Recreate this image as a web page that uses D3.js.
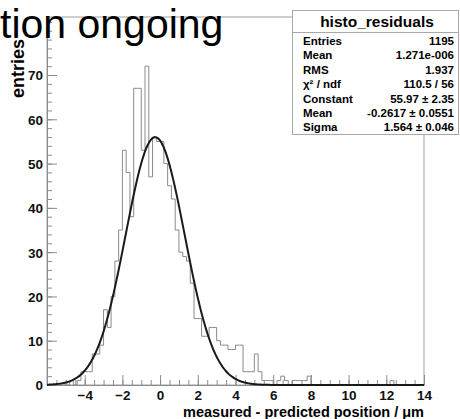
<!DOCTYPE html>
<html>
<head>
<meta charset="utf-8">
<script src="https://cdn.jsdelivr.net/npm/d3@7"></script>
<style>
  body { margin: 0; background: #fff; }
  svg, svg text { font-family: "Liberation Sans", Arial, sans-serif; }
  .axis path, .axis line { stroke: #8c8c8c; }
</style>
</head>
<body>
<svg id="chart" width="460" height="419"></svg>
<script>
// histogram: 100 bins of 0.2 from -6 to 14
var binLow = -6, binWidth = 0.2;
var counts = [
  0, 0, 0, 0, 0, 0, 1, 0, 1, 3,      // -6.0 .. -4.2
  3, 3, 7, 7, 9, 17, 13, 20, 28, 35,  // -4.0 .. -2.2
  53, 48, 38, 67, 67, 53, 72, 47, 56, 55, // -2.0 .. -0.2
  55, 50, 45, 42, 35, 30, 29, 28, 23, 15, // 0.0 .. 1.8
  15, 11, 11, 13, 13, 10, 9, 9, 8, 8,  // 2.0 .. 3.8
  9, 9, 3, 3, 3, 7, 3, 1, 1, 1,        // 4.0 .. 5.8
  0, 1, 2, 1, 0, 1, 1, 1, 1, 2,        // 6.0 .. 7.8
  0, 0, 0, 0, 0, 0, 0, 0, 0, 0,        // 8.0 .. 9.8
  0, 0, 0, 0, 0, 0, 0, 0, 0, 0,        // 10.0 .. 11.8
  0, 1, 0, 0, 0, 0, 0, 0, 0, 0         // 12.0 .. 13.8
];
// gaus fit: constant, mean, sigma
var fitParams = [55.97, -0.2617, 1.564];

var xTicks = [-4, -2, 0, 2, 4, 6, 8, 10, 12, 14];
var yTicks = [0, 10, 20, 30, 40, 50, 60, 70];

var statsTitle = "histo_residuals";
var statsNames = ["Entries", "Mean", "RMS", "\u03c7\u00b2 / ndf", "Constant", "Mean", "Sigma"];
var statsValues = ["1195", "1.271e-006", "1.937", "110.5 / 56", "55.97 \u00b1 2.35", "-0.2617 \u00b1 0.0551", "1.564 \u00b1 0.046"];

var svg = d3.select("#chart");

var x = d3.scaleLinear().domain([-6, 14]).range([47, 424]);
var y = d3.scaleLinear().domain([0, 83.1]).range([385, 17]);

// frame
svg.append("rect")
  .attr("x", 47).attr("y", 17)
  .attr("width", 424 - 47).attr("height", 385 - 17)
  .attr("fill", "none").attr("stroke", "#a0a0a0");

// minor ticks
var xMinor = d3.range(-6, 14.01, 0.5);
var yMinor = d3.range(0, 83, 2);
svg.append("g").attr("class", "axis")
  .attr("transform", "translate(0,385)")
  .call(d3.axisBottom(x).tickValues(xMinor).tickSize(-5).tickFormat(""))
  .select(".domain").remove();
svg.append("g").attr("class", "axis")
  .attr("transform", "translate(47,0)")
  .call(d3.axisLeft(y).tickValues(yMinor).tickSize(-5).tickFormat(""))
  .select(".domain").remove();

// major axes
var gx = svg.append("g").attr("class", "axis")
  .attr("transform", "translate(0,385)")
  .call(d3.axisBottom(x).tickValues(xTicks).tickSize(-10).tickPadding(5).tickSizeOuter(0));
var gy = svg.append("g").attr("class", "axis")
  .attr("transform", "translate(47,0)")
  .call(d3.axisLeft(y).tickValues(yTicks).tickSize(-10).tickPadding(4).tickSizeOuter(0));
gy.selectAll("text").attr("dy", "0.36em");
[gx, gy].forEach(function(g) {
  g.attr("font-family", "Liberation Sans, Arial, sans-serif").attr("font-size", 13.5);
  g.selectAll("text").attr("font-weight", "bold").attr("fill", "#111");
});

// histogram outline
var pts = [[binLow, 0]];
counts.forEach(function(c, i) {
  var lo = binLow + i * binWidth;
  pts.push([lo, c], [lo + binWidth, c]);
});
pts.push([binLow + counts.length * binWidth, 0]);
svg.append("path")
  .datum(pts)
  .attr("fill", "none")
  .attr("stroke", "#8a8a8a")
  .attr("stroke-width", 1)
  .attr("d", d3.line().x(function(d) { return x(d[0]); }).y(function(d) { return y(d[1]); }));

// fitted gaussian
var gaus = function(v) {
  var t = (v - fitParams[1]) / fitParams[2];
  return fitParams[0] * Math.exp(-0.5 * t * t);
};
svg.append("path")
  .datum(d3.range(-6, 14.001, 0.05))
  .attr("fill", "none")
  .attr("stroke", "#1a1a1a")
  .attr("stroke-width", 2)
  .attr("d", d3.line().x(function(d) { return x(d); }).y(function(d) { return y(gaus(d)); }).curve(d3.curveBasis));

// axis titles
svg.append("text")
  .attr("x", 424).attr("y", 417)
  .attr("text-anchor", "end")
  .attr("font-weight", "bold").attr("font-size", "14.5px")
  .text("measured - predicted position / \u03bcm");
svg.append("text")
  .attr("transform", "translate(24,98) rotate(-90)")
  .attr("text-anchor", "start")
  .attr("font-weight", "bold").attr("font-size", "18px")
  .text("entries");

// big title (cut off on the left)
svg.append("text")
  .attr("x", 0).attr("y", 38)
  .attr("font-size", "41px")
  .attr("fill", "#000")
  .text("tion ongoing");

// stats box
var box = svg.append("g");
box.append("rect")
  .attr("x", 292.5).attr("y", 10.5)
  .attr("width", 166).attr("height", 124)
  .attr("fill", "#fff").attr("stroke", "#a8a8a8");
box.append("line")
  .attr("x1", 292.5).attr("x2", 458.5)
  .attr("y1", 32.5).attr("y2", 32.5)
  .attr("stroke", "#a8a8a8");
box.append("text")
  .attr("x", 377).attr("y", 27)
  .attr("text-anchor", "middle")
  .attr("font-weight", "bold").attr("font-size", "15.5px")
  .text(statsTitle);
statsNames.forEach(function(n, i) {
  box.append("text")
    .attr("x", 303).attr("y", 45 + i * 14.4)
    .attr("font-weight", "bold").attr("font-size", "11.5px")
    .text(n);
  box.append("text")
    .attr("x", 454).attr("y", 45 + i * 14.4)
    .attr("text-anchor", "end")
    .attr("font-weight", "bold").attr("font-size", "11.5px")
    .text(statsValues[i]);
});
</script>
</body>
</html>
